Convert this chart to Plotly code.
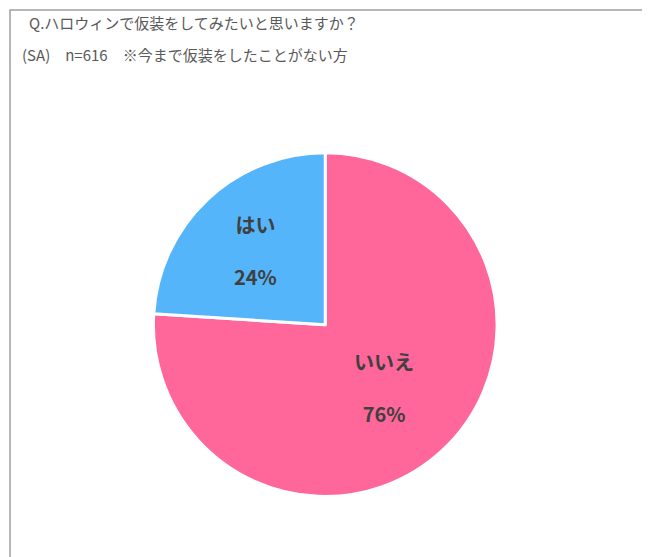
import plotly.graph_objects as go

labels = ["いいえ", "はい"]
values = [76, 24]
colors = ["#FF6699", "#55B5FA"]

fig = go.Figure(go.Pie(
    labels=labels, values=values, sort=False, direction="clockwise", rotation=0,
    marker=dict(colors=colors, line=dict(color="white", width=3)),
    texttemplate="<b>%{label}</b><br><br><b>%{percent:.0%}</b>",
    textposition="inside", insidetextorientation="horizontal",
    textfont=dict(size=20, color="#404040", family="Noto Sans CJK JP"),
    domain=dict(x=[0.222, 0.754], y=[0.12, 0.742]),
    showlegend=False, hoverinfo="skip",
))
fig.update_layout(
    width=650, height=557, margin=dict(l=2, r=2, t=2, b=2),
    paper_bgcolor="white", plot_bgcolor="white",
    font=dict(family="Noto Sans CJK JP"),
    shapes=[dict(type="rect", xref="paper", yref="paper", x0=0, y0=0, x1=1, y1=1,
                 line=dict(color="#A0A0A0", width=1.5))],
    annotations=[
        dict(text="Q.ハロウィンで仮装をしてみたいと思いますか？", x=0.026, y=1.0, xref="paper", yref="paper",
             xanchor="left", yanchor="top", showarrow=False, font=dict(size=15, color="#595959")),
        dict(text="(SA)　n=616　※今まで仮装をしたことがない方", x=0.016, y=0.943, xref="paper", yref="paper",
             xanchor="left", yanchor="top", showarrow=False, font=dict(size=15, color="#595959")),
    ],
)
fig.write_html("out.html")
